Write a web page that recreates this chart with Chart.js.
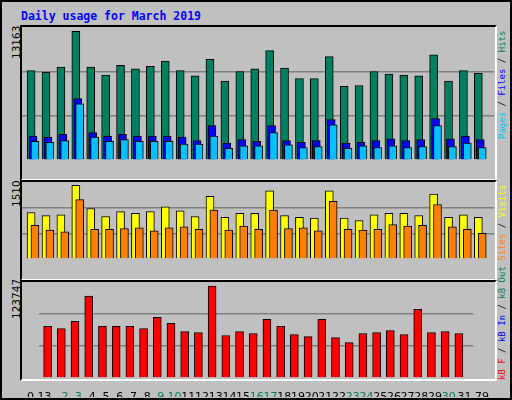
<!DOCTYPE html>
<html><head><meta charset="utf-8">
<script src="https://cdn.jsdelivr.net/npm/chart.js@4/dist/chart.umd.min.js"></script>
<style>
body{margin:0;}
#wrap{position:relative;width:508px;height:396px;background:#c0c0c0;border:2px solid #000;overflow:hidden;font-family:"DejaVu Sans Mono",monospace;}
.panel{position:absolute;left:18px;width:473px;border-left:2px solid #000;border-top:2px solid #000;border-right:2px solid #fff;border-bottom:2px solid #fff;}
.pc{position:absolute;}
.rot{position:absolute;transform-origin:0 0;transform:rotate(-90deg);white-space:nowrap;font-size:9px;line-height:11px;}
.lv{font-family:"DejaVu Sans",sans-serif;font-size:10.5px;line-height:12px;}
</style></head><body>
<div id="wrap">
<div style="position:absolute;left:19px;top:7px;color:#0000ff;font-weight:bold;font-size:11.5px;">Daily usage for March 2019</div>
<div class="panel" style="top:23px;height:152px;"></div>
<div class="panel" style="top:178px;height:97px;"></div>
<div class="panel" style="top:278px;height:97px;"></div>
<div class="pc" style="left:20px;top:25px;width:472px;height:152px;"><canvas id="c1"></canvas></div>
<div class="pc" style="left:20px;top:180px;width:472px;height:96px;"><canvas id="c2"></canvas></div>
<div class="pc" style="left:20px;top:280px;width:472px;height:115px;"><canvas id="c3"></canvas></div>
<div class="rot lv" style="left:8px;top:57px;">13163</div>
<div class="rot lv" style="left:8px;top:205px;">1510</div>
<div class="rot lv" style="left:8px;top:317px;">123747</div>
<div class="rot" style="left:495px;top:137px;"><span style="color:#00c0ff">Pages</span> / <span style="color:#0000ff">Files</span> / <span style="color:#008060">Hits</span></div>
<div class="rot" style="left:495px;top:378px;"><span style="color:#ff0000">kB F</span> / <span style="color:#0000ff">kB In</span> / <span style="color:#008060">kB Out</span> <span style="color:#ff8000">Sites</span> / <span style="color:#ffff00">Visits</span></div>
</div>
<script>
const days=[1,2,3,4,5,6,7,8,9,10,11,12,13,14,15,16,17,18,19,20,21,22,23,24,25,26,27,28,29,30,31];
const weekend=[2,3,9,10,16,17,23,24,30,31];
const hits=[9143,8964,9500,13163,9500,8696,9679,9321,9589,10125,9143,8607,10304,8070,9053,9321,11197,9411,8338,8338,10572,7534,7624,9053,8785,8696,8607,10751,8070,9143,8874];
const files=[2442,2353,2621,6284,2799,2442,2621,2442,2442,2442,2353,1995,3514,1727,2085,1906,3514,1995,1817,1995,4139,1727,1817,1995,2174,1995,2085,4229,2174,2442,2085];
const pages=[1906,1817,1995,5748,2353,1906,2085,1906,1906,1906,1638,1638,2442,1191,1459,1459,2799,1549,1281,1370,3603,1191,1459,1281,1459,1281,1370,3514,1370,1727,1281];
const visits=[952,886,903,1510,1034,870,968,936,968,1067,985,870,1280,853,936,936,1395,886,853,837,1395,837,788,903,936,936,886,1329,853,903,853];
const sites=[689,591,558,1215,607,607,624,640,574,640,657,607,1001,591,673,607,1001,624,640,574,1182,607,591,607,706,673,689,1116,657,607,525];
const kbytes=[69355,66635,76154,110150,69355,69355,69355,66635,81594,73435,62555,61195,123747,57115,62555,59835,78874,69355,58475,55756,78874,54396,47596,59835,61195,63915,58475,92474,61195,62555,59835];

function ds(vals,off,color){return {data:days.map((d,i)=>({x:d+off,y:vals[i]})),backgroundColor:color,borderColor:'#000',borderWidth:1,barThickness:8,grouped:false};}
function mk(id,sets,max,showX){
  new Chart(document.getElementById(id),{type:'bar',data:{datasets:sets},
  options:{responsive:true,maintainAspectRatio:false,animation:false,layout:{padding:0},
   plugins:{legend:{display:false},tooltip:{enabled:false}},
   scales:{
    x:{type:'linear',offset:false,min:0.13,max:31.79,display:showX,grid:{display:false},border:{display:false},
       afterFit:s=>{s.height=19},
       ticks:{stepSize:1,autoSkip:false,maxRotation:0,minRotation:0,padding:5,font:{family:'DejaVu Sans',size:11},
         color:c=>weekend.includes(c.tick.value)?'#008060':'#000',callback:v=>String(v)}},
    y:{min:0,max:max,display:true,border:{display:false},
       afterFit:s=>{s.width=0},
       ticks:{display:false,stepSize:max/3,count:4},
       grid:{drawTicks:false,lineWidth:1.5,color:c=>(c.index===1||c.index===2)?'#808080':'rgba(0,0,0,0)'}}
   }}});
}
mk('c1',[ds(pages,0.0,'#00c0ff'),ds(files,-0.13,'#0000ff'),ds(hits,-0.26,'#008060')],13163*152/147,false);
mk('c2',[ds(sites,0,'#ff8000'),ds(visits,-0.26,'#ffff00')],1510*96/92,false);
mk('c3',[ds(kbytes,-0.26,'#ff0000')],123747*96/92,true);
</script></body></html>
